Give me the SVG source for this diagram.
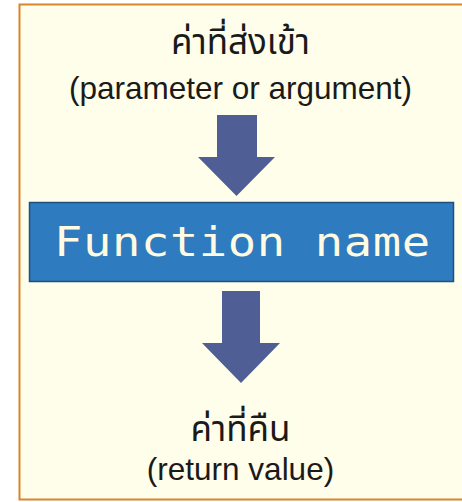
<svg xmlns="http://www.w3.org/2000/svg" width="462" height="502" viewBox="0 0 462 502">
<style>
.lbl{font-family:"Liberation Sans","Noto Sans Thai","Noto Sans",sans-serif;font-size:31.5px;fill:#1a1a1a;text-anchor:middle}
.th{font-size:35px}
.arrow{fill:#4f5f95}
.fn{font-family:"DejaVu Sans Mono","Liberation Mono",monospace;font-size:41px;fill:#fffbe3}
</style>
<rect width="462" height="502" fill="#ffffff"/>
<rect x="19.5" y="4.5" width="445" height="495" fill="#fffeea" stroke="#d9842e" stroke-width="2"/>
<g id="input">
<text class="lbl th" x="240.5" y="54">ค่าที่ส่งเข้า</text>
<text class="lbl" x="240.5" y="99">(parameter or argument)</text>
</g>
<g id="connectors">
<path class="arrow" d="M217,115 H257 V157 H275 L236.5,196 L198,157 H217 Z"/>
<path class="arrow" d="M222,291 H260 V343 H280 L241,383 L202,343 H222 Z"/>
</g>
<g id="function">
<rect x="29.5" y="202.5" width="424" height="79" fill="#2f7bbf" stroke="#1f4f7d" stroke-width="1.5"/>
<text class="fn" transform="translate(54,256) scale(1.15,1)" x="0" y="0" textLength="327" lengthAdjust="spacing">Function name</text>
</g>
<g id="output">
<text class="lbl th" x="240.5" y="441">ค่าที่คืน</text>
<text class="lbl" x="240.5" y="480">(return value)</text>
</g>
</svg>
